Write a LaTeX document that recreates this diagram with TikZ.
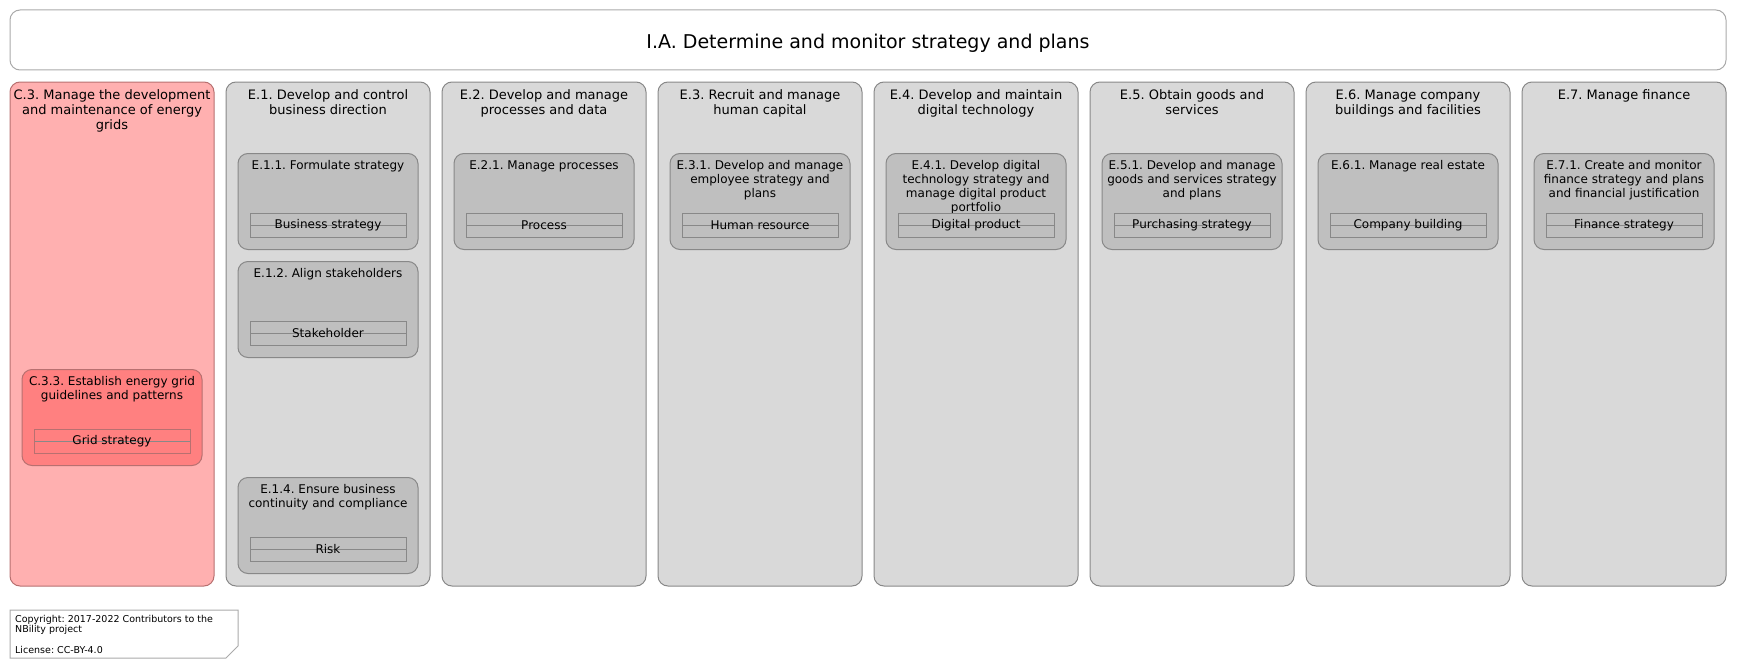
\documentclass[tikz,border=0pt]{standalone}
\usepackage{fontspec}
\setmainfont{DejaVu Sans}
\usepackage{tikz}
\usetikzlibrary{calc, positioning, shapes}
\frenchspacing

\definecolor{colfill}{HTML}{D9D9D9}
\definecolor{boxfill}{HTML}{BFBFBF}
\definecolor{edge}{HTML}{888888}
\definecolor{frame}{HTML}{AAAAAA}
\definecolor{gridfill}{HTML}{FFB0B0}
\definecolor{gridbox}{HTML}{FF8080}
\definecolor{gridedge}{HTML}{B87070}

\tikzset{
  column/.style={shape=rectangle, rounded corners=10pt, minimum width=204pt, minimum height=504pt, draw=edge, line width=1pt, fill=colfill},
  capability/.style={shape=rectangle, rounded corners=10pt, minimum width=180pt, minimum height=96pt, draw=edge, line width=1pt, fill=boxfill},
  object/.style={shape=rectangle, minimum width=156pt, minimum height=24pt, inner sep=0pt, draw=edge, line width=0.8pt,
    font=\fontsize{12}{14}\selectfont,
    path picture={\draw[edge, line width=0.8pt] (path picture bounding box.west) -- (path picture bounding box.east);}},
  coltext/.style={align=center, inner sep=0pt, anchor=north, font=\fontsize{13}{15}\selectfont},
  boxtext/.style={align=center, inner sep=0pt, anchor=north, font=\fontsize{12}{14}\selectfont},
}

\begin{document}
\begin{tikzpicture}[x=1pt, y=-1pt]
\useasboundingbox (0,0) rectangle (1737,669);
% title
\node[shape=rectangle, rounded corners=10pt, minimum width=1716pt, minimum height=60pt, draw=frame, line width=1pt, fill=white] (title) at (868,40) {};
\node[font=\fontsize{19}{21}\selectfont, inner sep=0pt] (titlet) at ($(title.center)+(0,3)$) {I.A. Determine and monitor strategy and plans};

% energy grid column
\node[column, fill=gridfill, draw=gridedge] (c3) at (112,334) {};
\node[coltext, below=8pt of c3.north] (c3t) {C.3. Manage the development\\and maintenance of energy\\grids};
\node[capability, fill=gridbox, draw=gridedge] (c33) at ($(c3.north)+(0,336)$) {};
\node[boxtext, below=7pt of c33.north] (c33t) {C.3.3. Establish energy grid\\guidelines and patterns};
\node[object, draw=gridedge] (c33o) at ($(c33.north)+(0,72)$) {\raisebox{-1pt}{Grid strategy}};

% enterprise columns
\foreach \n/\x/\t in {e1/328/{E.1. Develop and control\\business direction},
                      e2/544/{E.2. Develop and manage\\processes and data},
                      e3/760/{E.3. Recruit and manage\\human capital},
                      e4/976/{E.4. Develop and maintain\\digital technology},
                      e5/1192/{E.5. Obtain goods and\\services},
                      e6/1408/{E.6. Manage company\\buildings and facilities},
                      e7/1624/{E.7. Manage finance}}{
	\node[column] (\n) at (\x,334) {};
	\node[coltext, below=8pt of \n.north] (\n t) {\t};
}

% capabilities with their objects
\foreach \n/\c/\s/\t/\o in {e11/e1/1/{E.1.1. Formulate strategy}/{Business strategy},
                            e12/e1/2/{E.1.2. Align stakeholders}/{Stakeholder},
                            e14/e1/4/{E.1.4. Ensure business\\continuity and compliance}/{Risk},
                            e21/e2/1/{E.2.1. Manage processes}/{Process},
                            e31/e3/1/{E.3.1. Develop and manage\\employee strategy and\\plans}/{Human resource},
                            e41/e4/1/{E.4.1. Develop digital\\technology strategy and\\manage digital product\\portfolio}/{Digital product},
                            e51/e5/1/{E.5.1. Develop and manage\\goods and services strategy\\and plans}/{Purchasing strategy},
                            e61/e6/1/{E.6.1. Manage real estate}/{Company building},
                            e71/e7/1/{E.7.1. Create and monitor\\finance strategy and plans\\and financial justification}/{Finance strategy}}{
	\node[capability] (\n) at ($(\c.north)+(0,{120+108*(\s-1)})$) {};
	\node[boxtext, below=7pt of \n.north] (\n t) {\t};
	\node[object] (\n o) at ($(\n.north)+(0,72)$) {\raisebox{-1pt}{\o}};
}

% copyright note
\draw[frame, line width=1pt, fill=white] (10,610) -- (238,610) -- (238,646) -- (226,658) -- (10,658) -- cycle;
\node[anchor=north west, inner sep=0pt, align=left, font=\fontsize{9.5}{10.3}\selectfont] (note) at (15,615) {Copyright: 2017-2022 Contributors to the\\NBility project\\[10pt]License: CC-BY-4.0};
\end{tikzpicture}
\end{document}
